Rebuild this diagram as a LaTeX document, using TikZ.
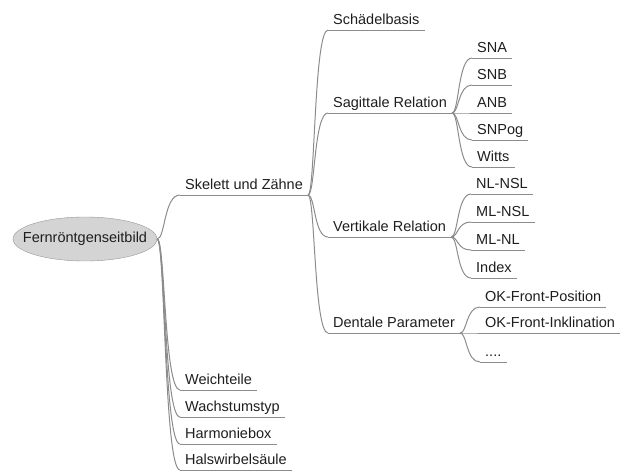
\documentclass[tikz,border=0pt]{standalone}
\usepackage{fontspec}
\setmainfont{Liberation Sans}
\usetikzlibrary{shapes.geometric}
\definecolor{branchgrey}{RGB}{140,140,140}
\definecolor{rootfill}{RGB}{212,212,212}
\definecolor{rootline}{RGB}{150,150,150}
\definecolor{labeltext}{RGB}{30,30,30}

\begin{document}
\begin{tikzpicture}[x=1pt, y=-1pt,
    topic/.style={anchor=south west, inner xsep=5pt, inner ysep=1pt,
      text height=11pt, text depth=4pt, text=labeltext,
      font=\fontsize{14.5}{17}\selectfont},
    branch/.style={draw=branchgrey, line width=1pt}]
  \useasboundingbox (0,0) rectangle (625,471);

  % central topic
  \node[ellipse, draw=rootline, fill=rootfill, inner xsep=-12pt, inner ysep=0pt,
    minimum width=144pt, minimum height=44pt,
    text=labeltext, font=\fontsize{14.5}{17}\selectfont] (frs) at (85,239) {Fernröntgenseitbild};

  % main branches
  \node[topic] (skelett) at (180,195) {Skelett und Zähne};
  \node[topic] (weich)   at (180,390) {Weichteile};
  \node[topic] (wachs)   at (180,417) {Wachstumstyp};
  \node[topic] (harmonie) at (180,444) {Harmoniebox};
  \node[topic] (hws)     at (180,470) {Halswirbelsäule};

  % skeleton and teeth
  \node[topic] (schaedel) at (328,30)  {Schädelbasis};
  \node[topic] (sagittal) at (328,113) {Sagittale Relation};
  \node[topic] (vertikal) at (328,237) {Vertikale Relation};
  \node[topic] (dental)   at (328,333) {Dentale Parameter};

  % sagittal
  \node[topic] (sna)   at (472,58)  {SNA};
  \node[topic] (snb)   at (472,85)  {SNB};
  \node[topic] (anb)   at (472,113) {ANB};
  \node[topic] (snpog) at (472,140) {SNPog};
  \node[topic] (witts) at (472,167) {Witts};

  % vertical
  \node[topic] (nlnsl) at (471,194) {NL-NSL};
  \node[topic] (mlnsl) at (471,222) {ML-NSL};
  \node[topic] (mlnl)  at (471,250) {ML-NL};
  \node[topic] (index) at (471,278) {Index};

  % dental
  \node[topic] (okpos)  at (480,307) {OK-Front-Position};
  \node[topic] (okinkl) at (480,333) {OK-Front-Inklination};
  \node[topic] (dots)   at (480,362) {....};

  % underlines
  \foreach \n in {skelett,weich,wachs,harmonie,hws,schaedel,sagittal,vertikal,dental,
      sna,snb,anb,snpog,witts,nlnsl,mlnsl,mlnl,index,okpos,okinkl,dots}
    \draw[branch] (\n.south west) -- (\n.south east);

  % connectors
  \foreach \n in {skelett,weich,wachs,harmonie,hws}
    \draw[branch] (frs.east) .. controls +(8,0) and +(-16,0) .. (\n.south west);
  \foreach \a/\b in {skelett/schaedel, skelett/sagittal, skelett/vertikal, skelett/dental,
      sagittal/sna, sagittal/snb, sagittal/anb, sagittal/snpog, sagittal/witts,
      vertikal/nlnsl, vertikal/mlnsl, vertikal/mlnl, vertikal/index,
      dental/okpos, dental/okinkl, dental/dots}
    \draw[branch] (\a.south east) .. controls +(7,0) and +(-14,0) .. (\b.south west);
\end{tikzpicture}
\end{document}
